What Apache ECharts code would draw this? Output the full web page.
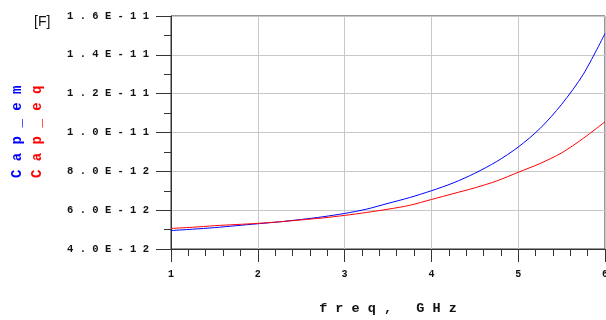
<!DOCTYPE html>
<html lang="en" style="height: 100%">
<head>
  <meta charset="utf-8">
</head>
<body style="height: 100%; margin: 0; background: #fff">
  <div id="container" style="width: 606px; height: 320px"></div>

  <script type="text/javascript" src="https://fastly.jsdelivr.net/npm/echarts@6.0.0/dist/echarts.min.js"></script>
  <script type="text/javascript">
    // frequency in GHz, capacitance read in pF (labels shown in F)
    var freq = [1, 1.25, 1.5, 1.75, 2, 2.25, 2.5, 2.75, 3, 3.25, 3.5, 3.75, 4,
                4.25, 4.5, 4.75, 5, 5.25, 5.5, 5.75, 6];
    var capEm = [4.95, 5.02, 5.1, 5.2, 5.3, 5.4, 5.52, 5.66, 5.83, 6.05, 6.35, 6.65, 7.0,
                 7.4, 7.9, 8.5, 9.25, 10.2, 11.45, 13.0, 15.1];
    var capEq = [5.06, 5.12, 5.2, 5.26, 5.32, 5.4, 5.5, 5.6, 5.73, 5.88, 6.05, 6.25, 6.55,
                 6.85, 7.15, 7.5, 7.95, 8.4, 8.95, 9.7, 10.55];

    var names = ['Cap_em', 'Cap_eq'];
    var colors = ['#0000ff', '#ff0000'];

    function spaced(s) {
      return s.split('').join(' ');
    }
    // pF -> "1.6E-11" style
    function sci(v) {
      var e = Math.floor(Math.log10(v) + 1e-9);
      var m = v / Math.pow(10, e);
      var exp = e - 12;
      return m.toFixed(1) + 'E' + (exp < 0 ? '-' : '+') + Math.abs(exp);
    }
    function pairs(ys) {
      return freq.map(function (f, i) { return [f, ys[i]]; });
    }

    var mono = 'Liberation Mono';
    var dom = document.getElementById('container');
    var myChart = echarts.init(dom, null, { renderer: 'canvas' });

    var option = {
      animation: false,
      title: {
        text: '[F]',
        left: 29,
        top: 10,
        textStyle: { fontFamily: 'Liberation Sans', fontSize: 14, fontWeight: 'normal', color: '#111' }
      },
      grid: {
        left: 171, right: 1, top: 16, bottom: 71,
        containLabel: false,
        outerBoundsMode: 'none',
        show: true, borderColor: '#333', borderWidth: 1
      },
      xAxis: {
        type: 'value',
        min: 1, max: 6, interval: 1,
        name: spaced('freq,') + '   ' + spaced('GHz'),
        nameLocation: 'middle',
        nameGap: 53,
        nameTextStyle: { fontFamily: mono, fontSize: 13.5, fontWeight: 'bold', color: '#111' },
        axisLine: { lineStyle: { color: '#333' } },
        axisTick: { length: 13, lineStyle: { color: '#333' } },
        minorTick: { show: true, splitNumber: 5, length: 7, lineStyle: { color: '#333' } },
        axisLabel: { margin: 20, fontFamily: mono, fontSize: 10, fontWeight: 'bold', color: '#111' },
        splitLine: { lineStyle: { color: '#c8c8c8' } }
      },
      yAxis: {
        type: 'value',
        min: 4, max: 16, interval: 2,
        axisLine: { show: true, lineStyle: { color: '#333' } },
        axisTick: { show: true, length: 15, lineStyle: { color: '#333' } },
        minorTick: { show: true, splitNumber: 2, length: 7, lineStyle: { color: '#333' } },
        axisLabel: {
          margin: 22, fontFamily: mono, fontSize: 10.5, fontWeight: 'bold', color: '#111',
          formatter: function (v) { return spaced(sci(v)); }
        },
        splitLine: { lineStyle: { color: '#c8c8c8' } }
      },
      graphic: names.map(function (n, i) {
        return {
          type: 'text',
          x: 24 + i * 20,
          y: 178,
          rotation: Math.PI / 2,
          style: {
            text: spaced(n),
            fill: colors[i],
            font: 'bold 14px "Liberation Mono"',
            textAlign: 'left',
            textVerticalAlign: 'bottom'
          }
        };
      }),
      series: [
        {
          name: names[0], type: 'line', data: pairs(capEm), smooth: 0.3,
          showSymbol: false, lineStyle: { color: colors[0], width: 1 }
        },
        {
          name: names[1], type: 'line', data: pairs(capEq), smooth: 0.3,
          showSymbol: false, lineStyle: { color: colors[1], width: 1 }
        }
      ]
    };

    myChart.setOption(option);
    window.addEventListener('resize', myChart.resize);
  </script>
</body>
</html>
